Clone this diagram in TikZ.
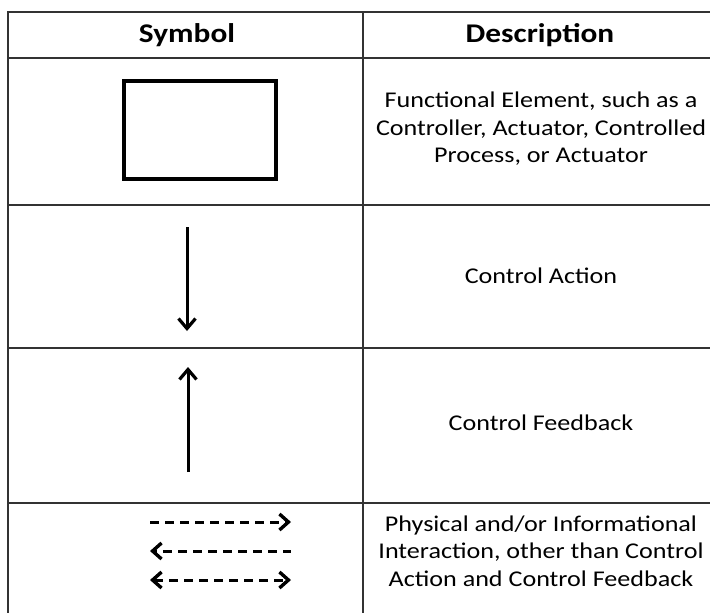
\documentclass[tikz,border=0pt]{standalone}
\usepackage{fontspec}
\setmainfont[FakeStretch=1.16]{Carlito}
\usetikzlibrary{arrows.meta}
\begin{document}
\begin{tikzpicture}[x=1pt,y=-1pt,
  grid/.style={line width=1.5pt,draw=black!80},
  head/.style={font=\fontsize{27}{30}\selectfont\bfseries},
  desc/.style={font=\fontsize{22.5}{27.5}\selectfont,align=center},
  elem/.style={draw,line width=3.2pt,minimum width=152pt,minimum height=98pt},
  flow/.style={line width=3pt,-{Straight Barb[length=10pt,width=17pt,line width=3.2pt]}},
  inter/.style={line width=3pt,dash pattern=on 8.5pt off 6.5pt,
    >={Straight Barb[length=9pt,width=16pt,line width=3.4pt]}}]
\useasboundingbox (0,0) rectangle (710,613);
\begin{scope}
\clip (0,0) rectangle (710,613);
% table frame
\draw[grid] (8,640) -- (8,12) -- (730,12) -- (730,640);
\draw[grid] (363,12) -- (363,640);
\draw[grid] (8,58) -- (730,58);
\draw[grid] (8,205) -- (730,205);
\draw[grid] (8,348) -- (730,348);
\draw[grid] (8,503) -- (730,503);
\end{scope}
% headers
\node[head] (hsym) at (187,35) {Symbol};
\node[head] (hdesc) at (540,35) {Description};
% row 1: functional element
\node[elem] (box) at (200,130) {};
\node[desc] (d1) at (541,129) {Functional Element, such as a\\Controller, Actuator, Controlled\\Process, or Actuator};
% row 2: control action
\coordinate (caTop) at (187,227);
\coordinate (caBot) at (187,331);
\draw[flow] (caTop) -- (caBot);
\node[desc] (d2) at (541,276) {Control Action};
% row 3: control feedback
\coordinate (cfBot) at (188,472);
\coordinate (cfTop) at (188,367);
\draw[flow] (cfBot) -- (cfTop);
\node[desc] (d3) at (541,423) {Control Feedback};
% row 4: interactions
\coordinate (i1a) at (150,522); \coordinate (i1b) at (291,522);
\coordinate (i2a) at (150,551); \coordinate (i2b) at (291,551);
\coordinate (i3a) at (150,580); \coordinate (i3b) at (291,580);
\draw[inter,->] (i1a) -- (i1b);
\draw[inter,<-,dash phase=6pt] (i2a) -- (i2b);
\draw[inter,<->] (i3a) -- (i3b);
\node[desc] (d4) at (541,551) {Physical and/or Informational\\Interaction, other than Control\\Action and Control Feedback};
\end{tikzpicture}
\end{document}
